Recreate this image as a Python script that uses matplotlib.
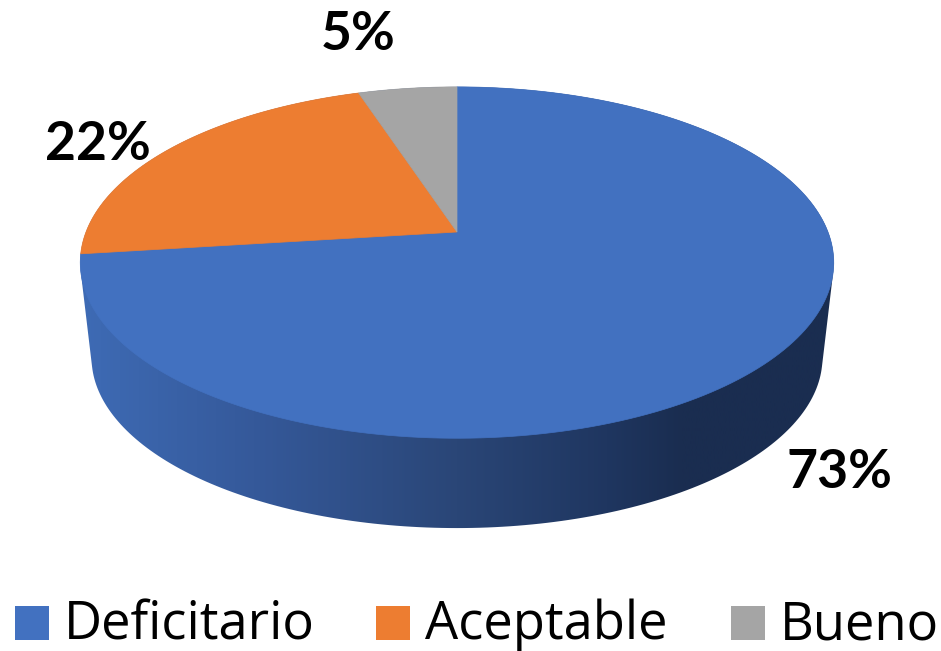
import numpy as np
import matplotlib
matplotlib.use('Agg')
import matplotlib.pyplot as plt
from matplotlib.colors import LinearSegmentedColormap
from matplotlib.patches import Polygon, Rectangle

categories = ['Deficitario', 'Aceptable', 'Bueno']
values = [73, 22, 5]
colors = ['#4271C0', '#ED7D31', '#A5A5A5']

plt.rcParams['font.family'] = ['Lato', 'DejaVu Sans']

# perspective of the disc, in pixels
CX, CY = 457, 232
K, B, C = 371, 130, -0.174


def project(theta, scale=1.0, dy=0.0):
    # theta clockwise from the top of the disc
    t = -np.cos(theta)
    w = 1 + C * t
    x = CX + scale * K * np.sin(theta) / w
    y = CY + dy + scale * (B * t / w + CY * (1 / w - 1))
    return x, y


def hull(pts):
    pts = sorted(set(map(tuple, pts)))

    def half(seq):
        out = []
        for p in seq:
            while len(out) > 1 and ((out[-1][0] - out[-2][0]) * (p[1] - out[-2][1])
                                    - (out[-1][1] - out[-2][1]) * (p[0] - out[-2][0])) <= 0:
                out.pop()
            out.append(p)
        return out[:-1]

    return half(pts) + half(pts[::-1])


fig = plt.figure(figsize=(9.41, 6.51), dpi=100)
ax = fig.add_axes([0, 0, 1, 1])
ax.set_xlim(0, 941)
ax.set_ylim(651, 0)
ax.axis('off')

# side of the pie, shaded from left to right
th = np.linspace(0, 2 * np.pi, 361)
top_x, top_y = project(th)
bot_x, bot_y = project(th, scale=0.97, dy=96)
outline = hull(np.round(np.column_stack([np.r_[top_x, bot_x], np.r_[top_y, bot_y]]), 2))
side = Polygon(outline, closed=True, facecolor='none', edgecolor='none')
ax.add_patch(side)
cmap = LinearSegmentedColormap.from_list('side', [
    (0.0, '#3E6BB5'), (0.23, '#35599A'), (0.5, '#2A4677'),
    (0.7, '#1F3660'), (0.8, '#1A2D50'), (1.0, '#1A2D50')])
grad = ax.imshow(np.linspace(0, 1, 256).reshape(1, -1), cmap=cmap, aspect='auto',
                 extent=[80, 834, 651, 0], interpolation='bilinear')
grad.set_clip_path(side)
ax.set_xlim(0, 941)
ax.set_ylim(651, 0)

# top of the pie, clockwise from 12 o'clock
start = 0.0
total = sum(values)
for val, col in zip(values, colors):
    end = start + val / total * 2 * np.pi
    a = np.linspace(start, end, 200)
    x, y = project(a)
    ax.add_patch(Polygon(np.r_[[[CX, CY]], np.column_stack([x, y])], closed=True,
                         facecolor=col, edgecolor=col, linewidth=0.5))
    start = end

# data labels
label_pos = [(839, 472), (98, 145), (358, 35)]
for val, (lx, ly) in zip(values, label_pos):
    ax.text(lx, ly, f'{val}%', ha='center', va='center', fontsize=38.5,
            fontweight='bold', color='black')

# legend
swatch_x = [15, 376, 731]
for name, col, sx in zip(categories, colors, swatch_x):
    ax.add_patch(Rectangle((sx, 606), 34, 34, facecolor=col, edgecolor='none'))
    ax.text(sx + 49, 639, name, ha='left', va='baseline', fontsize=37.8,
            family=['Open Sans', 'DejaVu Sans'], color='black')

fig.savefig('out.png', dpi=100)
